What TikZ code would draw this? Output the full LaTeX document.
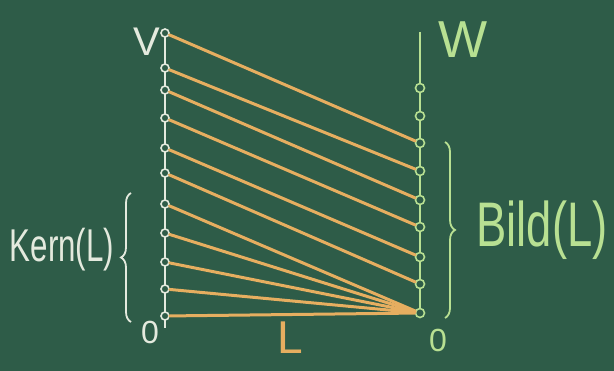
\documentclass[tikz,border=0pt]{standalone}
\usepackage{fontspec}
\setmainfont{Liberation Sans}
\usetikzlibrary{decorations.pathreplacing}
\definecolor{board}{RGB}{46,92,72}
\definecolor{chalkw}{RGB}{228,234,222}
\definecolor{chalkg}{RGB}{184,224,146}
\definecolor{chalko}{RGB}{230,174,96}
\tikzset{
  vdot/.style={circle,draw=chalkw,fill=board,line width=1.6pt,inner sep=0pt,minimum size=8pt},
  wdot/.style={circle,draw=chalkg,fill=board,line width=1.6pt,inner sep=0pt,minimum size=9pt},
  vline/.style={draw=chalkw,line width=2.4pt},
  wline/.style={draw=chalkg,line width=2.4pt},
  map/.style={draw=chalko,line width=3pt,line cap=round},
  bracew/.style={draw=chalkw,line width=1.8pt,decorate,decoration={brace,amplitude=10pt}},
  braceg/.style={draw=chalkg,line width=1.8pt,decorate,decoration={brace,amplitude=10pt}},
  lbl/.style={inner sep=0pt}
}
\begin{document}
\begin{tikzpicture}[x=1pt,y=-1pt]
\fill[board] (0,0) rectangle (614,371);
\useasboundingbox (0,0) rectangle (614,371);
% axes
\coordinate (vtop) at (165,30);
\coordinate (vbot) at (165,328);
\coordinate (wtop) at (420,32);
\coordinate (wbot) at (420,318);
\draw[vline] (vtop) -- (vbot);
\draw[wline] (wtop) -- (wbot);
% V dots
\foreach \i/\y in {0/316,1/289,2/262,3/233,4/204,5/173,6/148,7/118,8/90,9/68,10/33}
  \node[vdot] (v\i) at (165,\y) {};
% W dots
\foreach \i/\y in {0/313,1/284,2/257,3/227,4/200,5/171,6/143,7/116,8/88}
  \node[wdot] (w\i) at (420,\y) {};
% mapping lines
\draw[map] (v10) -- (w6);
\draw[map] (v9) -- (w5);
\draw[map] (v8) -- (w4);
\draw[map] (v7) -- (w3);
\draw[map] (v6) -- (w2);
\draw[map] (v5) -- (w1);
\draw[map] (v4) -- (w0);
\draw[map] (v3) -- (w0);
\draw[map] (v2) -- (w0);
\draw[map] (v1) -- (w0);
\draw[map] (v0) -- (w0);
% braces
\coordinate (kb1) at (131,322);
\coordinate (kb2) at (131,193);
\draw[bracew] (kb1) -- (kb2);
\coordinate (bb1) at (445,142);
\coordinate (bb2) at (445,318);
\draw[braceg] (bb1) -- (bb2);
% labels
\node[lbl,text=chalkw] (lV) at (147,42) {\fontsize{40}{40}\selectfont V};
\node[lbl,text=chalkg] (lW) at (463,40) {\fontsize{52}{52}\selectfont W};
\node[lbl,text=chalkw] (lK) at (62,250) {\scalebox{0.68}[1]{\fontsize{46}{46}\selectfont Kern(L)}};
\node[lbl,text=chalkg] (lB) at (542,230) {\scalebox{0.72}[1]{\fontsize{63}{63}\selectfont Bild(L)}};
\node[lbl,text=chalkw] (l0v) at (150,332) {\fontsize{32}{32}\selectfont 0};
\node[lbl,text=chalkg] (l0w) at (438,340) {\fontsize{32}{32}\selectfont 0};
\node[lbl,text=chalko] (lL) at (290,338) {\fontsize{46}{46}\selectfont L};
\end{tikzpicture}
\end{document}
